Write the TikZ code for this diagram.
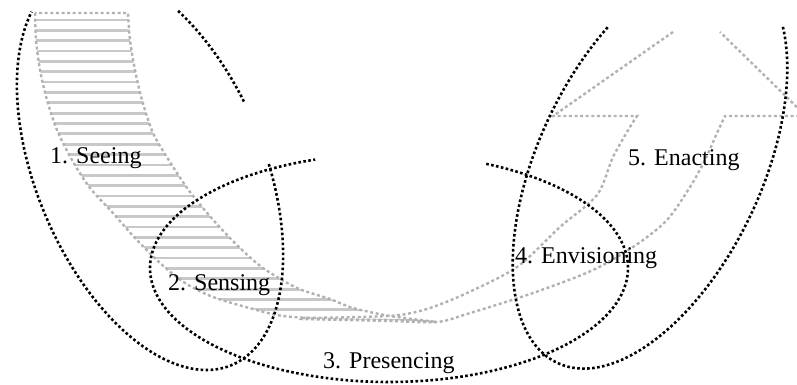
\documentclass[tikz,border=0pt]{standalone}
\usepackage{fontspec}
\setmainfont{Liberation Serif}
\definecolor{grayline}{RGB}{178,178,178}
\definecolor{hatchgray}{RGB}{200,200,200}
\tikzset{
  blk/.style={line width=2.6pt, dash pattern=on 2.6pt off 2.4pt, black},
  gry/.style={line width=2.4pt, dash pattern=on 3pt off 2.6pt, grayline},
  hatchline/.style={line width=2.8pt, hatchgray},
  lbl/.style={anchor=base west, inner sep=0pt, font=\fontsize{24}{28}\selectfont}
}
\begin{document}
\begin{tikzpicture}[x=1pt,y=-1pt]
\useasboundingbox (0,0) rectangle (797,385);
\clip (0,0) rectangle (797,385);
% ---- left arm of the U (hatched) ----
\def\leftarm{plot[smooth] coordinates {(35,13) (36,40) (40,70) (47,100) (57,130) (72,160) (90,188) (112,212) (135,238) (160,263) (185,283) (213,297) (253,309) (283,316) (330,319) (390,320) (437,322)}
  -- plot[smooth] coordinates {(437,322) (390,316) (353,308) (330,299) (297,288) (263,268) (240,248) (215,222) (190,192) (170,162) (153,133) (142,100) (135,70) (130,40) (128,13)} -- cycle}
\begin{scope}
  \clip \leftarm;
  \foreach \k in {0,...,29} \draw[hatchline] (0,{20+10.35*\k}) -- (450,{20+10.35*\k});
\end{scope}
\draw[gry] \leftarm;
% ---- right arm of the U (arrow) ----
\coordinate (tipL) at (673,32);
\coordinate (tipR) at (720,32);
\draw[gry] (tipL) -- (553,116) -- (637,116)
  -- plot[smooth] coordinates {(637,116) (630,127) (613,157) (597,195) (560,227) (517,267) (467,293) (430,308) (400,315) (360,317) (300,318)}
  -- plot[smooth] coordinates {(300,319) (390,321) (437,322) (467,314) (533,293) (593,270) (636,245) (667,220) (690,187) (705,160) (717,133) (725,116)}
  -- (806,116) -- (tipR);
% ---- 1. Seeing (tilted ellipse, left) ----
\draw[blk] plot[domain=230:263, samples=30, variable=\t]
  ({150 + 211.5*cos(\t)*0.3859 - 114*sin(\t)*0.9225}, {170 + 211.5*cos(\t)*0.9225 + 114*sin(\t)*0.3859});
\draw[blk] plot[domain=281:515, samples=200, variable=\t]
  ({150 + 211.5*cos(\t)*0.3859 - 114*sin(\t)*0.9225}, {170 + 211.5*cos(\t)*0.9225 + 114*sin(\t)*0.3859});
% ---- 3. Presencing (bottom ellipse) ----
\draw[blk] plot[domain=-66:252, samples=250, variable=\t]
  ({389 + 239*cos(\t)}, {268 + 114*sin(\t)});
% ---- 5. Enacting (tilted ellipse, right) ----
\draw[blk] plot[domain=-327:-60, samples=220, variable=\t]
  ({650 + 92.65*cos(\t) + 101.3*sin(\t)}, {166 - 196.9*cos(\t) + 47.7*sin(\t)});
% ---- labels ----
\node[lbl] (seeing) at (50,163) {1. Seeing};
\node[lbl] (sensing) at (168,290) {2. Sensing};
\node[lbl] (presencing) at (323,368) {3. Presencing};
\node[lbl] (envisioning) at (515,263) {4. Envisioning};
\node[lbl] (enacting) at (628,165) {5. Enacting};
\end{tikzpicture}
\end{document}
